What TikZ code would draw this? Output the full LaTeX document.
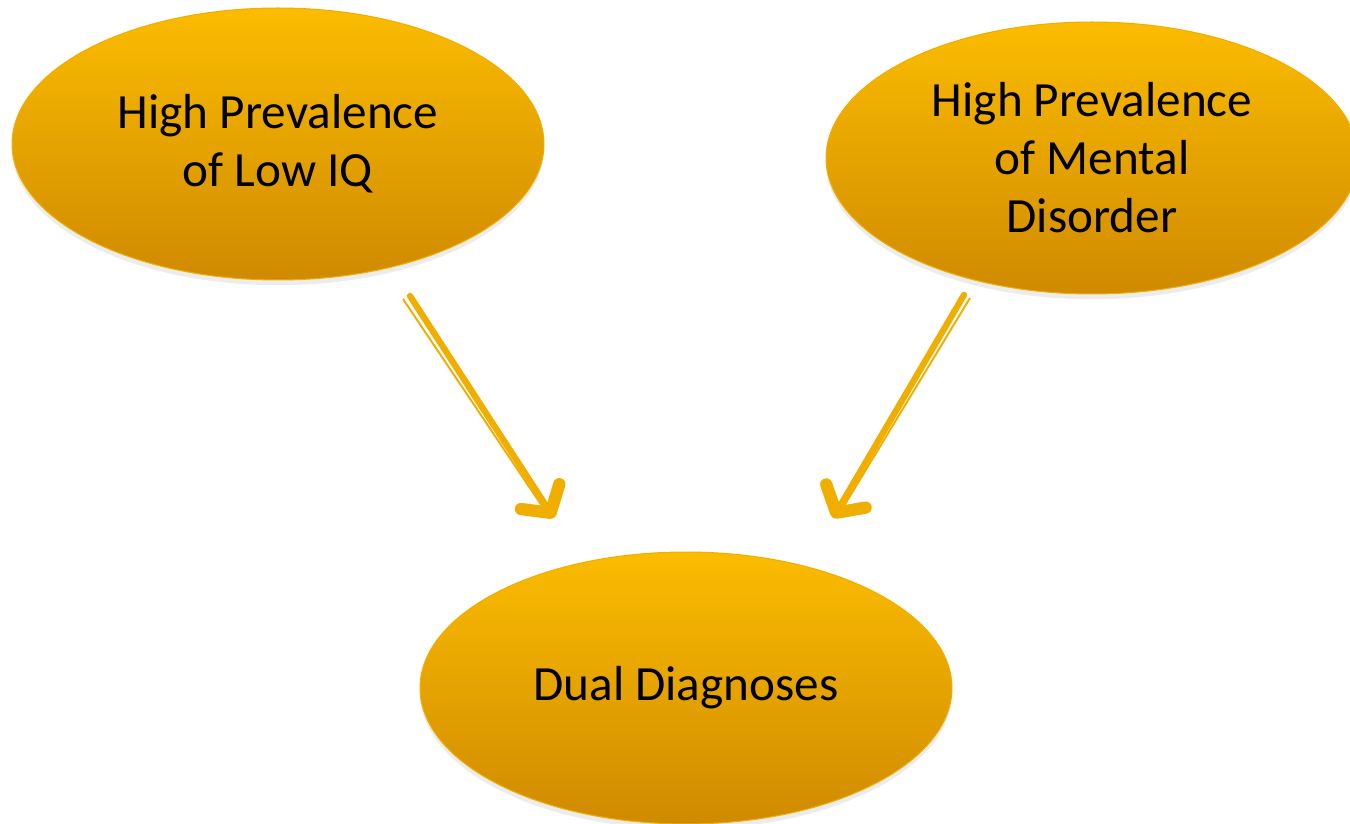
\documentclass[tikz,border=0pt]{standalone}
\usepackage{fontspec}
\setmainfont{Carlito}
\usetikzlibrary{shapes.geometric,shadows,arrows.meta,calc}
\definecolor{goldtop}{HTML}{FBBC00}
\definecolor{goldbot}{HTML}{D08A00}
\definecolor{goldline}{HTML}{EFAE00}

\tikzset{
  bubble/.style={ellipse, inner sep=0pt, draw=goldline, line width=0.6pt,
    top color=goldtop, bottom color=goldbot,
    minimum width=10.64cm, minimum height=5.44cm, align=center,
    font=\fontsize{28}{33}\selectfont,
    drop shadow={opacity=0.15, shadow xshift=0pt, shadow yshift=-3pt}},
  fatarrow/.style={draw=goldline, line width=3.6pt, line cap=round,
    -{Straight Barb[round, length=11pt, width=26pt, line width=7pt]}},
  thinline/.style={draw=goldline, line width=1.1pt}
}

\begin{document}
\begin{tikzpicture}[x=0.02cm, y=-0.02cm]
		%%%%% START %%%%%
		\useasboundingbox (0, 0) rectangle (1350, 824);
		
		\node[bubble] (lowiq) at (278, 144) {High Prevalence\\of Low IQ};
		\node[bubble] (mental) at (1092, 158) {High Prevalence\\of Mental\\Disorder};
		\node[bubble] (dual) at (686, 688) {Dual Diagnoses};
		
		\coordinate (a1) at (410, 296);
		\coordinate (b1) at (554, 518);
		\coordinate (a2) at (964, 295);
		\coordinate (b2) at (833, 518);
		
		% left arrow
		\draw[fatarrow] (a1) -- (b1);
		\draw[thinline] ($(a1)+(-7, 3)$) -- ($(b1)+(-12, -12)$);
		
		% right arrow
		\draw[fatarrow] (a2) -- (b2);
		\draw[thinline] ($(a2)+(6, 3)$) -- ($(b2)+(11, -12)$);
		
		%%%%% END %%%%%
	\end{tikzpicture}
\end{document}
